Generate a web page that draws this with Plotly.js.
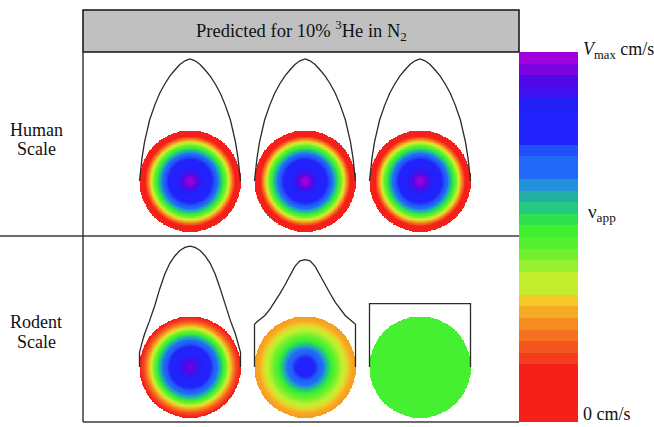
<!DOCTYPE html>
<html>
<head>
<meta charset="utf-8">
<script src="https://cdn.plot.ly/plotly-3.0.1.min.js"></script>
<style>html,body{margin:0;padding:0;background:#fff;}#plot{width:654px;height:427px;}</style>
</head>
<body>
<div id="plot"></div>
<script>
// ---------- DATA ----------
// radial positions (fraction of tube radius) at which profiles are sampled
const radii = [0, 0.1, 0.2, 0.3, 0.4, 0.5, 0.6, 0.7, 0.8, 0.9, 0.95, 1.0];

// velocity profile curves (fraction of Vmax)
const humanCurve   = [1.0, 0.985, 0.955, 0.91, 0.86, 0.795, 0.72, 0.62, 0.50, 0.32, 0.19, 0.0];
const rodent1Curve = [0.99, 0.98, 0.955, 0.91, 0.85, 0.76, 0.64, 0.50, 0.38, 0.27, 0.20, 0.12];
const rodent2Curve = [0.88, 0.87, 0.825, 0.75, 0.67, 0.60, 0.53, 0.47, 0.42, 0.385, 0.37, 0.35];
const rodent3Curve = [0.52, 0.52, 0.52, 0.52, 0.52, 0.52, 0.52, 0.52, 0.52, 0.52, 0.52, 0.52];

// apparent velocity shown in the cross-section discs (fraction of Vmax)
const humanDisc   = [1.0, 0.95, 0.88, 0.83, 0.78, 0.72, 0.60, 0.47, 0.30, 0.12, 0.05, 0.02];
const rodent1Disc = [0.95, 0.92, 0.87, 0.82, 0.77, 0.70, 0.60, 0.47, 0.32, 0.20, 0.16, 0.13];
const rodent2Disc = [0.80, 0.79, 0.76, 0.70, 0.63, 0.54, 0.47, 0.41, 0.35, 0.30, 0.29, 0.28];
const rodent3Disc = [0.51, 0.51, 0.51, 0.51, 0.51, 0.51, 0.51, 0.51, 0.51, 0.51, 0.51, 0.51];

const rowLabels = [['Human', 'Scale'], ['Rodent', 'Scale']];
const titleText = 'Predicted for 10% <sup>3</sup>He in N<sub>2</sub>';
const cbTop = '<i>V</i><sub>max</sub> cm/s';
const cbMid = 'ν<sub>app</sub>';
const cbBottom = '0 cm/s';

// colour bar bands, bottom (0) to top (Vmax)
const bandColors = [
  '#f5201a','#f5201a','#f5201a','#f5201a','#f5201a',
  '#f43c1e','#f5561e','#f5701f','#f58c20','#f5aa22','#f5c828',
  '#c3ee2e','#c3ee2e','#95f02e','#72f02e','#55f02f','#40f030',
  '#2fe04f','#22c97f','#21b0a2','#2192d8','#2068f5','#2068f5',
  '#2050f8','#2222fc','#2222fc','#2222fc','#2220f6','#3f12ef',
  '#5008e6','#7c02e0','#a000dc'
];

const panels = [
  {row: 0, col: 0, curve: humanCurve,   disc: humanDisc},
  {row: 0, col: 1, curve: humanCurve,   disc: humanDisc},
  {row: 0, col: 2, curve: humanCurve,   disc: humanDisc},
  {row: 1, col: 0, curve: rodent1Curve, disc: rodent1Disc},
  {row: 1, col: 1, curve: rodent2Curve, disc: rodent2Disc},
  {row: 1, col: 2, curve: rodent3Curve, disc: rodent3Disc}
];

// ---------- LAYOUT GEOMETRY (pixels) ----------
const W = 654, H = 427;
const colCenters = [190, 305, 420];
const rowTop = [52, 236], rowBot = [236, 422], rowCenter = [181, 367];
const labelY = [[129, 149], [321, 341]];
const R = 50.5;        // disc radius px
const VSCALE = 122;    // px per Vmax for curves
const halfW = 58;
const frameL = 83, frameR = 519, headTop = 10, headBot = 52, frameBot = 422, divY = 236;
const cbL = 519, cbR = 578, cbT = 52, cbB = 422;
const px = x => x / W, py = y => 1 - y / H;

const n = bandColors.length;
const colorscale = [[0, bandColors[0]]];
bandColors.forEach((c, i) => colorscale.push([(i + 0.5) / n, c]));
colorscale.push([1, bandColors[n - 1]]);

function interp(arr, r) {
  if (r >= radii[radii.length - 1]) return arr[arr.length - 1];
  for (let i = 0; i < radii.length - 1; i++) {
    if (r >= radii[i] && r <= radii[i + 1]) {
      const t = (r - radii[i]) / (radii[i + 1] - radii[i]);
      return arr[i] + t * (arr[i + 1] - arr[i]);
    }
  }
  return arr[0];
}

const traces = [];
const layout = {
  width: W, height: H,
  margin: {l: 0, r: 0, t: 0, b: 0},
  paper_bgcolor: '#ffffff', plot_bgcolor: 'rgba(0,0,0,0)',
  showlegend: false,
  font: {family: 'Liberation Serif, Times New Roman, serif', color: '#111', size: 18},
  shapes: [], annotations: []
};
const hidden = {visible: false, showgrid: false, zeroline: false, fixedrange: true};

const G = 161;
const grid = [];
for (let k = 0; k < G; k++) grid.push(-1 + 2 * k / (G - 1));

panels.forEach((p, idx) => {
  const i = idx + 1;
  const cx = colCenters[p.col], cy = rowCenter[p.row];
  const xk = i === 1 ? 'xaxis' : 'xaxis' + i;
  const xr = i === 1 ? 'x' : 'x' + i;
  const yk = i === 1 ? 'yaxis' : 'yaxis' + i;
  const yr = i === 1 ? 'y' : 'y' + i;
  const y2k = 'yaxis' + (i + 6), y2r = 'y' + (i + 6);
  layout[xk] = Object.assign({}, hidden, {domain: [px(cx - halfW), px(cx + halfW)], range: [-halfW / R, halfW / R], anchor: yr});
  const dom = [py(rowBot[p.row]), py(rowTop[p.row])];
  layout[yk] = Object.assign({}, hidden, {domain: dom, range: [-(rowBot[p.row] - cy) / R, (cy - rowTop[p.row]) / R], anchor: xr});
  layout[y2k] = Object.assign({}, hidden, {overlaying: yr, anchor: xr, range: [-(rowBot[p.row] - cy) / VSCALE, (cy - rowTop[p.row]) / VSCALE]});

  // disc
  const z = grid.map(yy => grid.map(xx => {
    const r = Math.sqrt(xx * xx + yy * yy);
    return r <= 1 ? interp(p.disc, r) : null;
  }));
  traces.push({type: 'heatmap', x: grid, y: grid, z: z, zmin: 0, zmax: 1,
    colorscale: colorscale, showscale: false, hoverinfo: 'skip', xaxis: xr, yaxis: yr});

  // profile curve
  const cxs = [], cys = [];
  cxs.push(-1); cys.push(0);
  for (let k = radii.length - 1; k >= 0; k--) { cxs.push(-radii[k]); cys.push(p.curve[k]); }
  for (let k = 1; k < radii.length; k++) { cxs.push(radii[k]); cys.push(p.curve[k]); }
  cxs.push(1); cys.push(0);
  traces.push({type: 'scatter', mode: 'lines', x: cxs, y: cys,
    line: {color: '#2a2a2a', width: 1.3}, hoverinfo: 'skip', xaxis: xr, yaxis: y2r});
});

// colour bar
layout.xaxis13 = Object.assign({}, hidden, {domain: [px(cbL), px(cbR)], range: [-0.5, 0.5], anchor: 'y13'});
layout.yaxis13 = Object.assign({}, hidden, {domain: [py(cbB), py(cbT)], range: [0, 1], anchor: 'x13'});
const cbY = bandColors.map((c, i) => (i + 0.5) / n);
traces.push({type: 'heatmap', x: [0], y: cbY, z: cbY.map(v => [v]), zmin: 0, zmax: 1,
  colorscale: colorscale, showscale: false, hoverinfo: 'skip', xaxis: 'x13', yaxis: 'y13'});

// frame shapes
const lineC = '#3a3a3a';
layout.shapes.push({type: 'rect', xref: 'paper', yref: 'paper', x0: px(frameL), x1: px(frameR), y0: py(headBot), y1: py(headTop),
  fillcolor: '#c0c0c0', line: {color: '#111', width: 1.5}, layer: 'below'});
layout.shapes.push({type: 'line', xref: 'paper', yref: 'paper', x0: px(frameL), x1: px(frameL), y0: py(headBot), y1: py(frameBot), line: {color: lineC, width: 1.5}});
layout.shapes.push({type: 'line', xref: 'paper', yref: 'paper', x0: px(frameL), x1: px(frameR), y0: py(frameBot), y1: py(frameBot), line: {color: lineC, width: 1.5}});
layout.shapes.push({type: 'line', xref: 'paper', yref: 'paper', x0: 0, x1: px(frameR), y0: py(divY), y1: py(divY), line: {color: lineC, width: 1.5}});

// texts
layout.annotations.push({xref: 'paper', yref: 'paper', x: px((frameL + frameR) / 2), y: py(31), text: titleText,
  showarrow: false, xanchor: 'center', yanchor: 'middle', font: {size: 18.5}});
rowLabels.forEach((lines, r) => {
  lines.forEach((t, j) => {
    layout.annotations.push({xref: 'paper', yref: 'paper', x: px(36), y: py(labelY[r][j]), text: t,
      showarrow: false, xanchor: 'center', yanchor: 'middle', height: 17, valign: 'middle',
      borderpad: 0, font: {size: 18}});
  });
});
layout.annotations.push({xref: 'paper', yref: 'paper', x: px(581), y: py(50), text: cbTop,
  showarrow: false, xanchor: 'left', yanchor: 'middle', font: {size: 18}});
layout.annotations.push({xref: 'paper', yref: 'paper', x: px(586), y: py(213), text: cbMid,
  showarrow: false, xanchor: 'left', yanchor: 'middle', font: {size: 19}});
layout.annotations.push({xref: 'paper', yref: 'paper', x: px(581), y: py(414), text: cbBottom,
  showarrow: false, xanchor: 'left', yanchor: 'middle', font: {size: 18}});

Plotly.newPlot('plot', traces, layout, {staticPlot: true, displayModeBar: false});
</script>
</body>
</html>
